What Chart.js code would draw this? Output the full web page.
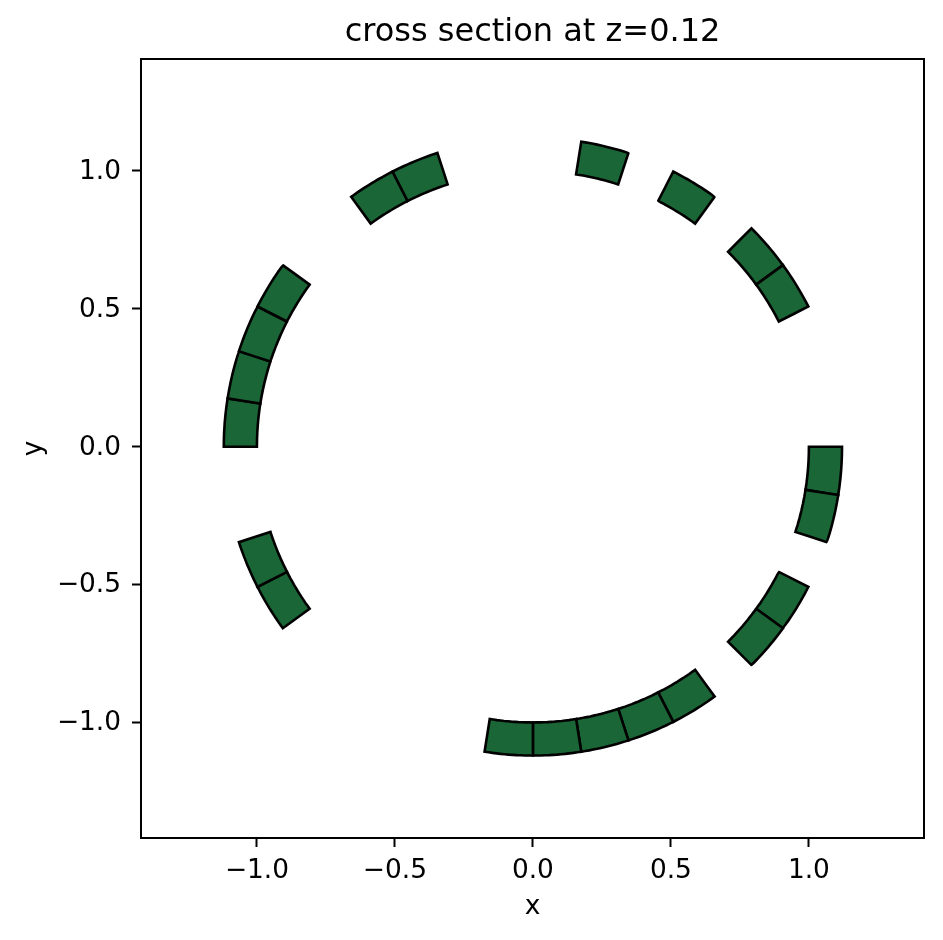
<!DOCTYPE html>
<html>
<head>
<meta charset="utf-8">
<style>
    html, body { margin: 0; padding: 0; background: #fff; }
    #wrap { width: 943px; height: 940px; }
</style>
<script src="https://cdn.jsdelivr.net/npm/chart.js@4/dist/chart.umd.min.js"></script>
</head>
<body>
<div id="wrap"><canvas id="chartroot"></canvas></div>
<script>
// start angle of every filled cell, degrees counter clockwise from +x
const cellStarts = [-18, -9, -45, -36, -99, -90, -81, -72, -63, 27, 36, 54, 72, 108, 117, 144, 153, 162, 171, 198, 207];
const cellWidth = 9;
const innerRadius = 1.0;
const outerRadius = 1.12;
const tickValues = [-1, -0.5, 0, 0.5, 1];
const xLimits = [-1.42, 1.417];
const yLimits = [-1.419, 1.406];
const titleText = 'cross section at z=0.12';

const fontFamily = '"DejaVu Sans"';

// outline of one annular cell, in data units
const cellOutline = (start) => {
    const pts = [];
    const steps = 6;
    for (let i = 0; i <= steps; i++) {
        const a = (start + cellWidth * i / steps) * Math.PI / 180;
        pts.push({ x: innerRadius * Math.cos(a), y: innerRadius * Math.sin(a) });
    }
    for (let i = steps; i >= 0; i--) {
        const a = (start + cellWidth * i / steps) * Math.PI / 180;
        pts.push({ x: outerRadius * Math.cos(a), y: outerRadius * Math.sin(a) });
    }
    // run on past the start so the closing corner gets a proper join
    pts.push(pts[0], pts[1]);
    return pts;
};

const formatTick = (v) => v.toFixed(1).replace('-', '\u2212');

const axisOptions = (label, limits, tickPad, labelOffset, titlePad, extra) => ({
    type: 'linear',
    min: limits[0],
    max: limits[1],
    afterBuildTicks: (scale) => { scale.ticks = tickValues.map(value => ({ value })); },
    border: { display: true, color: '#000', width: 2 },
    grid: { drawOnChartArea: false, color: '#000', tickColor: '#000', tickLength: 9, tickWidth: 2 },
    ticks: {
        color: '#000',
        font: { family: fontFamily, size: 26.4 },
        maxRotation: 0,
        autoSkip: false,
        callback: formatTick,
        padding: tickPad,
        labelOffset
    },
    title: { display: true, text: label, color: '#000', font: { family: fontFamily, size: 26.4 }, padding: titlePad },
    ...extra
});

// top and right spines
const frame = {
    id: 'frame',
    afterDraw(chart) {
        const { ctx, chartArea: a } = chart;
        ctx.save();
        ctx.strokeStyle = '#000';
        ctx.lineWidth = 2;
        ctx.strokeRect(a.left, a.top, a.right - a.left, a.bottom - a.top);
        ctx.restore();
    }
};

new Chart(document.getElementById('chartroot'), {
    type: 'scatter',
    data: {
        datasets: cellStarts.map(start => ({
            data: cellOutline(start),
            showLine: true,
            fill: 'shape',
            backgroundColor: '#1a6636',
            borderColor: '#000',
            borderWidth: 2.6,
            borderCapStyle: 'butt',
            borderJoinStyle: 'miter',
            // tiny tension: tension 0 takes the fast path, which merges points on one pixel column
            tension: 0.0001,
            pointRadius: 0,
            pointHoverRadius: 0
        }))
    },
    options: {
        responsive: true,
        maintainAspectRatio: false,
        animation: false,
        devicePixelRatio: 1,
        layout: { padding: { left: 0, right: 19, top: 0, bottom: 0 } },
        plugins: {
            legend: { display: false },
            tooltip: { enabled: false },
            title: {
                display: true,
                fullSize: false,
                text: titleText,
                color: '#000',
                font: { family: fontFamily, size: 32, weight: 'normal' },
                padding: { top: 13, bottom: 7.6 }
            }
        },
        scales: {
            x: axisOptions('x', xLimits, 8, 0, { top: 0, bottom: 17 }, { afterFit: (scale) => { scale.height = 102; } }),
            y: axisOptions('y', yLimits, 11, 1, { top: 18, bottom: 0 }, { afterFit: (scale) => { scale.width = 141; } })
        }
    },
    plugins: [frame]
});
</script>
</body>
</html>
